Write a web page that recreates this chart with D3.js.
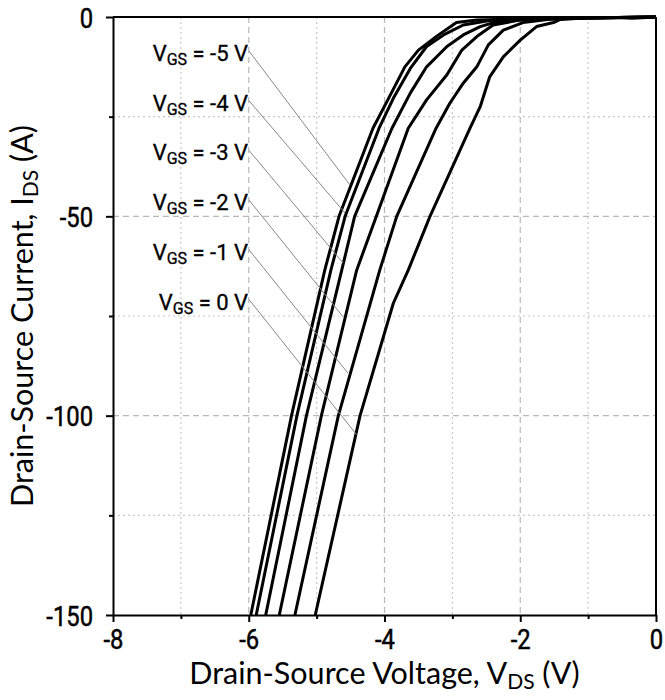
<!DOCTYPE html>
<html>
<head>
<meta charset="utf-8">
<script src="https://cdn.jsdelivr.net/npm/d3@7"></script>
<style>
  body { margin: 0; background: #fff; }
</style>
</head>
<body>
<div id="chart"></div>
<script>
// gate voltages, one curve each (left curve = -5 V)
const gateVoltages = [-5, -4, -3, -2, -1, 0];

// [V_DS, I_DS] points
const curveM5 = [[0,0],[-0.6,-0.1],[-1.41,-0.3],[-2.35,-0.6],[-2.64,-0.75],[-2.94,-1.4],[-3.23,-4.8],[-3.50,-8.3],[-3.70,-12.5],[-3.94,-20.4],[-4.17,-27.9],[-4.67,-50],[-4.88,-63.5],[-5.37,-100],[-5.97,-150]];
const curveM4 = [[0,0],[-1.41,-0.3],[-2.2,-0.5],[-2.45,-0.9],[-2.84,-2.0],[-3.13,-4.5],[-3.38,-7.4],[-3.62,-12.9],[-3.87,-20.4],[-4.08,-27.9],[-4.58,-50],[-4.79,-63.5],[-5.29,-100],[-5.89,-150]];
const curveM3 = [[0,0],[-1.41,-0.3],[-2.0,-0.6],[-2.35,-1.2],[-2.59,-2.4],[-2.84,-4.5],[-3.08,-7.4],[-3.38,-12.5],[-3.62,-19.1],[-3.89,-27.9],[-4.44,-50],[-4.63,-63.5],[-5.15,-100],[-5.75,-150]];
const curveM2 = [[0,0],[-1.41,-0.3],[-1.8,-0.5],[-2.05,-0.9],[-2.40,-2.0],[-2.64,-4.9],[-2.86,-8.3],[-3.08,-14.5],[-3.38,-20.8],[-3.65,-27.9],[-4.12,-50],[-4.41,-63.5],[-4.93,-100],[-5.55,-150]];
const curveM1 = [[0,0],[-1.2,-0.3],[-1.6,-0.6],[-1.96,-1.4],[-2.25,-3.3],[-2.47,-7.0],[-2.64,-12.5],[-2.84,-16.6],[-3.04,-21.7],[-3.24,-27.9],[-3.82,-50],[-4.07,-63.5],[-4.68,-100],[-5.32,-150]];
const curve0 = [[0,0],[-0.35,-0.3],[-0.6,-0.1],[-1.0,-0.2],[-1.41,-0.6],[-1.51,-1.4],[-1.76,-2.4],[-2.0,-5.8],[-2.25,-10.0],[-2.45,-15.0],[-2.59,-22.5],[-2.74,-27.9],[-3.33,-50],[-3.65,-63.5],[-3.87,-71.8],[-4.36,-100],[-5.02,-150]];
const curves = [curveM5, curveM4, curveM3, curveM2, curveM1, curve0];

// where each label's leader line touches its curve
const leaderEnds = [[-4.51,-42.1],[-4.58,-49.2],[-4.61,-61.7],[-4.61,-75.2],[-4.54,-89.3],[-4.41,-104.8]];

// ticks
const xMajor = [-8, -6, -4, -2, 0];
const xMinor = [-7, -5, -3, -1];
const yMajor = [-150, -100, -50, 0];
const yMinor = [-125, -75, -25];

function init() {
    const margin = { top: 17, right: 9, bottom: 85, left: 113 },
        W = 665, H = 700,
        w = W - margin.left - margin.right,
        h = H - margin.top - margin.bottom;

    const tickFont = "Roboto, sans-serif";
    const titleFont = "Lato, sans-serif";
    const sx = 0.85; // squeeze tick digits to look condensed

    const svg = d3.select("#chart")
        .append("svg")
        .attr("width", W)
        .attr("height", H)
        .append("g")
        .attr("transform", `translate(${margin.left},${margin.top})`);

    const x = d3.scaleLinear().domain([-8, 0]).range([0, w]);
    const y = d3.scaleLinear().domain([-150, 0]).range([h, 0]);

    // grid: dashed on major, dotted on minor
    const grid = svg.append("g").attr("class", "grid");
    grid.selectAll(".vmaj").data(xMajor.slice(1, -1)).enter().append("line")
        .attr("x1", d => x(d)).attr("x2", d => x(d)).attr("y1", 0).attr("y2", h)
        .attr("stroke", "#b8b8b8").attr("stroke-width", 1.2).attr("stroke-dasharray", "6,4");
    grid.selectAll(".vmin").data(xMinor).enter().append("line")
        .attr("x1", d => x(d)).attr("x2", d => x(d)).attr("y1", 0).attr("y2", h)
        .attr("stroke", "#c8c8c8").attr("stroke-width", 1.2).attr("stroke-dasharray", "2,3");
    grid.selectAll(".hmaj").data(yMajor.slice(1, -1)).enter().append("line")
        .attr("y1", d => y(d)).attr("y2", d => y(d)).attr("x1", 0).attr("x2", w)
        .attr("stroke", "#b8b8b8").attr("stroke-width", 1.2).attr("stroke-dasharray", "6,4");
    grid.selectAll(".hmin").data(yMinor).enter().append("line")
        .attr("y1", d => y(d)).attr("y2", d => y(d)).attr("x1", 0).attr("x2", w)
        .attr("stroke", "#c8c8c8").attr("stroke-width", 1.2).attr("stroke-dasharray", "2,3");

    // frame on top and right
    svg.append("line").attr("x1", 0).attr("x2", w).attr("y1", 0).attr("y2", 0)
        .attr("stroke", "#000").attr("stroke-width", 2);
    svg.append("line").attr("x1", w).attr("x2", w).attr("y1", 0).attr("y2", h)
        .attr("stroke", "#000").attr("stroke-width", 2);

    // minor ticks
    svg.append("g")
        .attr("transform", `translate(0,${h})`)
        .call(d3.axisBottom(x).tickValues(xMinor).tickSize(4).tickFormat(""))
        .call(g => g.select(".domain").remove());
    svg.append("g")
        .call(d3.axisLeft(y).tickValues(yMinor).tickSize(4).tickFormat(""))
        .call(g => g.select(".domain").remove());

    // x axis
    const xAxis = svg.append("g")
        .attr("transform", `translate(0,${h})`)
        .call(d3.axisBottom(x).tickValues(xMajor).tickSize(7).tickSizeOuter(0).tickPadding(7).tickFormat(d => String(d)));
    xAxis.selectAll("text")
        .style("font-family", tickFont)
        .style("font-size", "28px")
        .attr("fill", "#000")
        .attr("stroke", "#000")
        .attr("stroke-width", 0.5)
        .attr("transform", `scale(${sx},1)`);

    // y axis
    const yAxis = svg.append("g")
        .call(d3.axisLeft(y).tickValues(yMajor).tickSize(7).tickSizeOuter(0).tickPadding(13).tickFormat(d => String(d)));
    yAxis.selectAll("text")
        .style("font-family", tickFont)
        .style("font-size", "28px")
        .attr("fill", "#000")
        .attr("stroke", "#000")
        .attr("stroke-width", 0.5)
        .attr("x", -20 / sx)
        .attr("dy", "0.36em")
        .attr("transform", `scale(${sx},1)`);

    svg.selectAll(".domain, .tick line").attr("stroke", "#000").attr("stroke-width", 2);

    // curves
    const line = d3.line().x(d => x(d[0])).y(d => y(d[1]));
    svg.append("g").attr("class", "curves")
        .selectAll("path")
        .data(curves)
        .enter()
        .append("path")
        .attr("d", line)
        .attr("fill", "none")
        .attr("stroke", "#000")
        .attr("stroke-width", 3)
        .attr("stroke-linejoin", "round");

    // gate labels with leader lines
    const labelX = 248 - margin.left;
    const labelY0 = 61 - margin.top, labelStep = 49.7;
    const labels = svg.append("g").attr("class", "labels");
    gateVoltages.forEach((v, i) => {
        const by = labelY0 + i * labelStep;
        labels.append("line")
            .attr("x1", labelX + 1).attr("y1", by - 10)
            .attr("x2", x(leaderEnds[i][0])).attr("y2", y(leaderEnds[i][1]))
            .attr("stroke", "#888").attr("stroke-width", 1);
        const t = labels.append("text")
            .attr("x", labelX).attr("y", by)
            .attr("text-anchor", "end")
            .style("font-family", tickFont)
            .style("font-size", "22px")
            .attr("fill", "#000")
            .attr("stroke", "#000")
            .attr("stroke-width", 0.3);
        t.append("tspan").text("V");
        t.append("tspan").attr("dy", 4).style("font-size", "16px").text("GS");
        t.append("tspan").attr("dy", -4).text(` = ${v < 0 ? "-" + Math.abs(v) : v} V`);
    });

    // axis titles
    const xt = svg.append("text")
        .attr("x", w / 2).attr("y", 684 - margin.top)
        .attr("text-anchor", "middle")
        .style("font-family", titleFont)
        .style("font-size", "30.5px")
        .attr("fill", "#000");
    xt.append("tspan").text("Drain-Source Voltage, V");
    xt.append("tspan").attr("dy", 5).style("font-size", "21px").text("DS");
    xt.append("tspan").attr("dy", -5).text(" (V)");

    const yt = svg.append("text")
        .attr("transform", `translate(${33 - margin.left},${h / 2}) rotate(-90)`)
        .attr("text-anchor", "middle")
        .style("font-family", titleFont)
        .style("font-size", "30.5px")
        .attr("fill", "#000");
    yt.append("tspan").text("Drain-Source Current, I");
    yt.append("tspan").attr("dy", 5).style("font-size", "21px").text("DS");
    yt.append("tspan").attr("dy", -5).text(" (A)");
}

window.onload = init;
</script>
</body>
</html>
